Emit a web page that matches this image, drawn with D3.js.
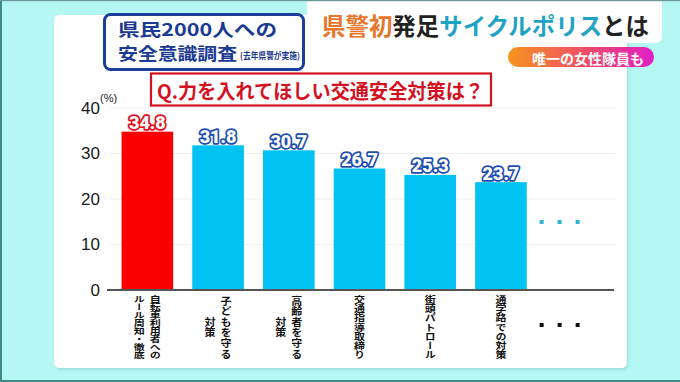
<!DOCTYPE html>
<html><head><meta charset="utf-8">
<script src="https://cdn.jsdelivr.net/npm/d3@7/dist/d3.min.js"></script>
<style>
html,body{margin:0;padding:0;background:#b5f7f3;}
svg{display:block;}
</style></head>
<body>
<svg id="chart" width="680" height="382"></svg>
<script>
const categoryLines = [
  ["自転車利用者への","ルール周知・徹底"],
  ["子どもを守る","対策"],
  ["高齢者を守る","対策"],
  ["交通指導取締り"],
  ["街頭パトロール"],
  ["通学路での対策"]
];
const categories = categoryLines.map(l => l.join(""));
const values = [34.8, 31.8, 30.7, 26.7, 25.3, 23.7];
const moreLabel = "…";
const yTicks = [0, 10, 20, 30, 40];
const yUnit = "(%)";
const surveyTitle = ["県民2000人への", "安全意識調査"];
const surveyNote = "(去年県警が実施)";
const question = "Q.力を入れてほしい交通安全対策は？";
const headlineParts = [["県警初","#e8772e"],["発足","#222"],["サイクルポリス","#1fa3c4"],["とは","#222"]];
const pillText = "唯一の女性隊員も";

const JP = "'Noto Sans CJK JP','Noto Sans',sans-serif";
const svg = d3.select("#chart");
const defs = svg.append("defs");

const sh = defs.append("filter").attr("id","sh").attr("x","-5%").attr("y","-5%").attr("width","110%").attr("height","110%");
sh.append("feDropShadow").attr("dx",1).attr("dy",1.5).attr("stdDeviation",1.5).attr("flood-color","#5aa").attr("flood-opacity",0.35);

const gPill = defs.append("linearGradient").attr("id","gpill");
gPill.append("stop").attr("offset","0%").attr("stop-color","#f7941d");
gPill.append("stop").attr("offset","55%").attr("stop-color","#ef4a6a");
gPill.append("stop").attr("offset","100%").attr("stop-color","#e01fc8");
const gLine = defs.append("linearGradient").attr("id","gline");
gLine.append("stop").attr("offset","0%").attr("stop-color","#f2b23a");
gLine.append("stop").attr("offset","100%").attr("stop-color","#c860d0");

// background + panels
svg.append("rect").attr("width",680).attr("height",382).attr("fill","#b5f7f3");
svg.append("rect").attr("x",54).attr("y",15).attr("width",573).attr("height",353).attr("rx",5)
  .attr("fill","#fff").attr("filter","url(#sh)");
svg.append("rect").attr("x",307).attr("y",-10).attr("width",355).attr("height",53).attr("rx",6)
  .attr("fill","#fff");
svg.append("line").attr("x1",320).attr("x2",647).attr("y1",42).attr("y2",42)
  .attr("stroke","url(#gline)").attr("stroke-width",1.6);
const head = svg.append("text").attr("x",322).attr("y",25).attr("dominant-baseline","central")
  .attr("font-family",JP).attr("font-weight",700).attr("font-size",23.5)
  .attr("textLength",327).attr("lengthAdjust","spacingAndGlyphs");
headlineParts.forEach(p => head.append("tspan").attr("fill",p[1]).text(p[0]));

// pill
svg.append("rect").attr("x",508).attr("y",47).attr("width",146).attr("height",20).attr("rx",10)
  .attr("fill","url(#gpill)");
svg.append("text").attr("x",588).attr("y",57.5).attr("text-anchor","middle").attr("dominant-baseline","central")
  .attr("font-family",JP).attr("font-weight",700).attr("font-size",14).attr("fill","#fff").text(pillText);

// frame lines
svg.append("rect").attr("x",0).attr("y",0).attr("width",2).attr("height",382).attr("fill","#3d8a88");
svg.append("rect").attr("x",0).attr("y",0).attr("width",680).attr("height",1.2).attr("fill","#6a9a98");
svg.append("rect").attr("x",0).attr("y",380).attr("width",680).attr("height",2).attr("fill","#3d8a88");

// survey box
svg.append("rect").attr("x",104.5).attr("y",14.5).attr("width",199).attr("height",55).attr("rx",6)
  .attr("fill","#fff").attr("stroke","#1b3f9c").attr("stroke-width",3);
svg.append("text").attr("x",118).attr("y",28.5).attr("dominant-baseline","central")
  .attr("font-family",JP).attr("font-weight",700).attr("font-size",17.5).attr("fill","#1b3a92")
  .attr("textLength",159).attr("lengthAdjust","spacingAndGlyphs").text(surveyTitle[0]);
svg.append("text").attr("x",118).attr("y",52.5).attr("dominant-baseline","central")
  .attr("font-family",JP).attr("font-weight",700).attr("font-size",17.5).attr("fill","#1b3a92")
  .attr("textLength",119).attr("lengthAdjust","spacingAndGlyphs").text(surveyTitle[1]);
svg.append("text").attr("x",240).attr("y",55).attr("dominant-baseline","central")
  .attr("font-family",JP).attr("font-weight",700).attr("font-size",9).attr("fill","#1b3a92")
  .attr("textLength",60).attr("lengthAdjust","spacingAndGlyphs").text(surveyNote);

// question box
svg.append("rect").attr("x",151).attr("y",73.5).attr("width",340).attr("height",32)
  .attr("fill","#fff").attr("stroke","#d3121f").attr("stroke-width",2.2);
svg.append("text").attr("x",157).attr("y",90.5).attr("dominant-baseline","central")
  .attr("font-family",JP).attr("font-weight",700).attr("font-size",20).attr("fill","#d3121f")
  .attr("textLength",327).attr("lengthAdjust","spacingAndGlyphs").text(question);

// scales
const y = d3.scaleLinear().domain([0, 40]).range([290, 108]);
const x = d3.scaleBand().domain(categories.concat([moreLabel])).range([112, 607])
  .paddingInner(0.27).paddingOuter(0.135);

// gridlines
svg.append("g").selectAll("line").data(yTicks.filter(d => d > 0)).join("line")
  .attr("x1",110).attr("x2",615).attr("y1",d => y(d)).attr("y2",d => y(d))
  .attr("stroke","#eeeeee").attr("stroke-width",1);

// y axis labels
const yAxis = svg.append("g").attr("transform","translate(107,0)")
  .call(d3.axisLeft(y).tickValues(yTicks).tickSize(0).tickPadding(7).tickFormat(d3.format("d")));
yAxis.select(".domain").remove();
yAxis.selectAll("text").attr("font-family","'Liberation Sans',Arial,sans-serif").attr("font-size",17)
  .attr("fill","#1a1a1a").attr("font-weight",500);
svg.append("text").attr("x",100).attr("y",98).attr("dominant-baseline","central")
  .attr("font-family","'Liberation Sans',Arial,sans-serif").attr("font-size",11).attr("fill","#222").text(yUnit);

// bars
svg.append("g").selectAll("rect").data(values).join("rect")
  .attr("x",(d,i) => x(categories[i])).attr("width",x.bandwidth())
  .attr("y",d => y(d)).attr("height",d => y(0) - y(d))
  .attr("fill",(d,i) => i === 0 ? "#fc0000" : "#00c3f4");

// value labels
svg.append("g").selectAll("text").data(values).join("text")
  .attr("x",(d,i) => x(categories[i]) + x.bandwidth()/2).attr("y",d => y(d) - 9)
  .attr("text-anchor","middle").attr("dominant-baseline","central")
  .attr("font-family","Roboto,'Liberation Sans',sans-serif").attr("font-weight",900).attr("font-size",18)
  .attr("fill","#fff").attr("stroke",(d,i) => i === 0 ? "#e0101c" : "#1f4fae")
  .attr("stroke-width",3.5).attr("stroke-linejoin","round").attr("paint-order","stroke")
  .text(d => d3.format(".1f")(d));

// baseline
svg.append("line").attr("x1",107).attr("x2",614).attr("y1",y(0)).attr("y2",y(0))
  .attr("stroke","#555").attr("stroke-width",2);

// category labels (vertical, squeezed to a common height)
const labG = svg.append("g");
categoryLines.forEach((lines, i) => {
  const cx = x(categories[i]) + x.bandwidth()/2;
  const nMax = d3.max(lines, l => l.length);
  const fs = 11;
  const k = Math.min(10.6, 65 / nMax) / fs;
  const n = lines.length;
  lines.forEach((line, j) => {
    const colX = cx + (n - 1) * 8 - j * 16;
    labG.append("text")
      .attr("transform", `translate(${colX},327) scale(1,${k})`)
      .attr("x", 0).attr("y", 0)
      .attr("text-anchor","middle")
      .style("writing-mode","vertical-rl").style("text-orientation","upright")
      .attr("font-family",JP).attr("font-weight",700).attr("font-size",fs).attr("fill","#111")
      .text(line);
  });
});

// "more" dots
const mx = x(moreLabel) + x.bandwidth()/2 - 12;
[-18, 0, 18].forEach(o => {
  svg.append("rect").attr("x", mx + o - 2).attr("y", 220).attr("width",4).attr("height",4).attr("fill","#2fb3d3");
  svg.append("rect").attr("x", mx + o - 2).attr("y", 323).attr("width",4).attr("height",4).attr("fill","#111");
});
</script>
</body></html>
